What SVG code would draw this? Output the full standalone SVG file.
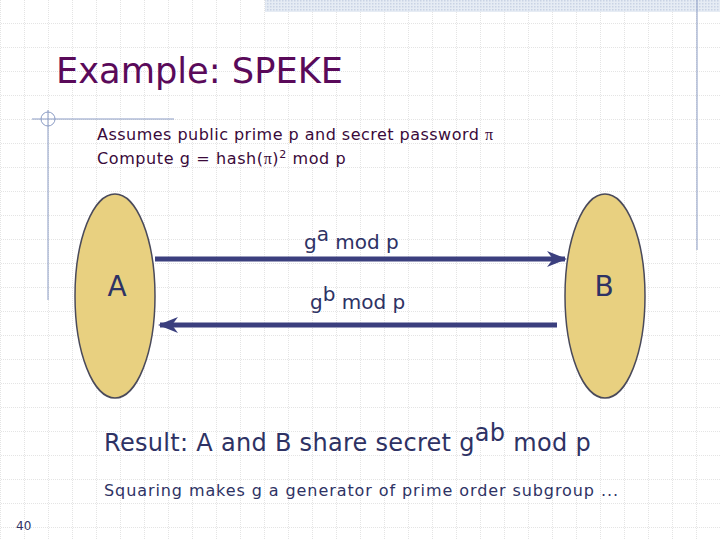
<svg xmlns="http://www.w3.org/2000/svg" width="720" height="540" viewBox="0 0 720 540">
<defs>
<pattern id="grid" width="24" height="24" patternUnits="userSpaceOnUse" x="1" y="0">
<path d="M24 0V24M0 24H24" fill="none" stroke="#c8c8c8" stroke-width="1" stroke-dasharray="1 1"/>
</pattern>
<pattern id="hatch" width="3" height="3" patternUnits="userSpaceOnUse">
<rect width="3" height="3" fill="#e6ecf4"/><rect width="1.5" height="1.5" fill="#c9d3e4"/>
</pattern>
<marker id="ah" viewBox="0 0 10 10" refX="9" refY="5" markerWidth="4" markerHeight="4" orient="auto-start-reverse" markerUnits="strokeWidth">
<path d="M0 1L10 5L0 9L3 5Z" fill="#3b3f7e"/>
</marker>
<style>
.t{font-family:Verdana,"DejaVu Sans",sans-serif;fill:#2e3264}
.n{fill:#e8d080;stroke:#4a4a5a;stroke-width:1.5}
.c{stroke:#3b3f7e;stroke-width:5;fill:none}
</style>
</defs>
<rect width="720" height="540" fill="#fff"/>
<rect width="720" height="540" fill="url(#grid)"/>
<rect x="265" y="0" width="455" height="12" fill="url(#hatch)"/>
<line x1="697" y1="0" x2="697" y2="250" stroke="#8a9bc4" stroke-width="1"/>
<line x1="32" y1="119" x2="174" y2="119" stroke="#8a9bc4" stroke-width="1"/>
<line x1="48" y1="110" x2="48" y2="300" stroke="#8a9bc4" stroke-width="1"/>
<circle cx="48" cy="119" r="7" fill="none" stroke="#8a9bc4" stroke-width="1"/>
<text x="56" y="83" font-family="Verdana,'DejaVu Sans',sans-serif" font-size="36" fill="#5a0a5a" textLength="287" lengthAdjust="spacingAndGlyphs">Example: SPEKE</text>
<text x="97" y="140" font-family="Verdana,'DejaVu Sans',sans-serif" font-size="16" fill="#3a0a3a" textLength="396" lengthAdjust="spacing">Assumes public prime p and secret password <tspan font-family="'Liberation Serif',serif">π</tspan></text>
<text x="97" y="164" font-family="Verdana,'DejaVu Sans',sans-serif" font-size="16" fill="#3a0a3a" letter-spacing="0.6">Compute g = hash(<tspan font-family="'Liberation Serif',serif">π</tspan>)<tspan font-size="11" dy="-6">2</tspan><tspan dy="6"> mod p</tspan></text>
<g id="nodeA"><ellipse class="n" cx="115" cy="296" rx="40" ry="102"/><text class="t" x="117" y="296" font-size="28" text-anchor="middle">A</text></g>
<g id="nodeB"><ellipse class="n" cx="605" cy="296" rx="40" ry="102"/><text class="t" x="604" y="296" font-size="28" text-anchor="middle">B</text></g>
<g id="connectors">
<line class="c" x1="155" y1="259" x2="565" y2="259" marker-end="url(#ah)"/>
<line class="c" x1="557" y1="325" x2="160" y2="325" marker-end="url(#ah)"/>
</g>
<text class="t" x="304" y="249" font-size="20">g<tspan dy="-8">a</tspan><tspan dy="8"> mod p</tspan></text>
<text class="t" x="310" y="309" font-size="20">g<tspan dy="-8">b</tspan><tspan dy="8"> mod p</tspan></text>
<text x="104" y="451" font-family="'DejaVu Sans',sans-serif" font-size="24" fill="#2e3264" letter-spacing="0.3">Result: A and B share secret g<tspan dy="-10">ab</tspan><tspan dy="10"> mod p</tspan></text>
<text class="t" x="104" y="496" font-size="16" textLength="514" lengthAdjust="spacing">Squaring makes g a generator of prime order subgroup ...</text>
<text x="16" y="530" font-family="Verdana,'DejaVu Sans',sans-serif" font-size="12" fill="#2e3264">40</text>
</svg>
